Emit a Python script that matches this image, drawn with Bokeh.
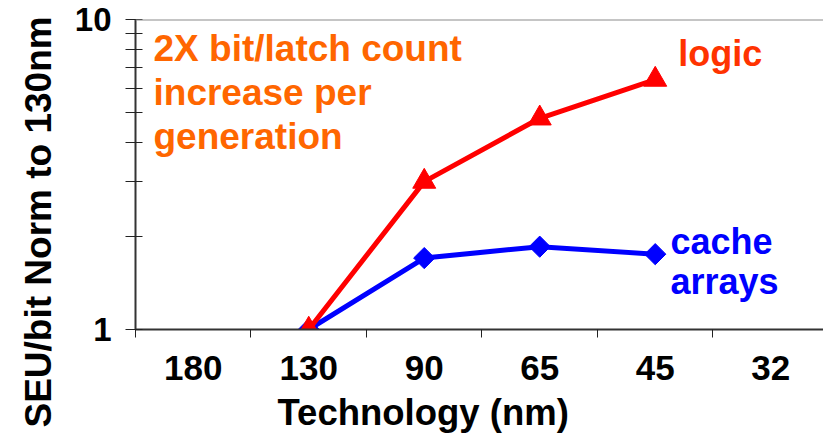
import math
from bokeh.plotting import figure
from bokeh.models import Range1d, FixedTicker, Span, Label, Title
from bokeh.embed import file_html
from bokeh.resources import INLINE

# ---- data ----
technologies = ["180", "130", "90", "65", "45", "32"]
measured_nodes = ["130", "90", "65", "45"]
logic_seu = [1.0, 3.0, 4.8, 6.4]
cache_seu = [1.0, 1.7, 1.85, 1.75]
y_major = [1, 10]
y_minor = [2, 3, 4, 5, 6, 7, 8, 9]

FONT = "Liberation Sans"

centers = [i + 0.5 for i in range(len(technologies))]
bounds = list(range(len(technologies) + 1))
node_x = [technologies.index(t) + 0.5 for t in measured_nodes]

p = figure(width=823, height=439, y_axis_type="log",
           x_range=Range1d(0, 5.957), y_range=Range1d(1, 10),
           output_backend="svg", toolbar_location=None,
           min_border_left=135, min_border_right=0,
           min_border_top=19, min_border_bottom=107)
p.outline_line_color = None
p.grid.visible = False
p.background_fill_color = "white"

# x axis
xa = p.xaxis[0]
xa.ticker = FixedTicker(ticks=centers, minor_ticks=bounds)
xa.major_label_overrides = {c: t for c, t in zip(centers, technologies)}
xa.major_tick_out = 0
xa.major_tick_in = 0
xa.minor_tick_out = 8
xa.minor_tick_in = 0
xa.minor_tick_line_color = "#222222"
xa.minor_tick_line_width = 1
xa.axis_line_color = "#333333"
xa.axis_line_width = 2
xa.major_label_text_font = FONT
xa.major_label_text_font_style = "bold"
xa.major_label_text_font_size = "35px"
xa.major_label_text_color = "black"
xa.major_label_standoff = 18

# y axis
ya = p.yaxis[0]
ya.ticker = FixedTicker(ticks=y_major, minor_ticks=y_minor)
ya.major_label_overrides = {1: "1", 10: "10"}
ya.major_tick_out = 10
ya.major_tick_in = 7
ya.minor_tick_out = 10
ya.minor_tick_in = 7
ya.major_tick_line_color = "#222222"
ya.minor_tick_line_color = "#222222"
ya.axis_line_color = "#333333"
ya.axis_line_width = 2
ya.major_label_text_font = FONT
ya.major_label_text_font_style = "bold"
ya.major_label_text_font_size = "33px"
ya.major_label_text_color = "black"
ya.major_label_standoff = 14

# axis titles
p.add_layout(Title(text="Technology (nm)", align="left", offset=142, standoff=14,
                   text_font=FONT, text_font_style="bold", text_font_size="36.5px",
                   text_color="black"), "below")
p.add_layout(Title(text="SEU/bit Norm to 130nm", align="left", offset=-98, standoff=26,
                   text_font=FONT, text_font_style="bold", text_font_size="37px",
                   text_color="black"), "left")

# top border line
p.add_layout(Span(location=10, dimension="width", line_color="#8c8c8c", line_width=2))

# series
p.line(node_x, cache_seu, line_color="#0000FF", line_width=5)
p.scatter(node_x, cache_seu, marker="square", size=15, angle=math.pi / 4,
          fill_color="#0000FF", line_color="#0000FF")
p.line(node_x, logic_seu, line_color="#FF0000", line_width=5)
p.scatter(node_x, logic_seu, marker="triangle", size=23,
          fill_color="#FF0000", line_color="#FF0000")

# annotations
p.add_layout(Label(x=0.156, y=9.4, text="2X bit/latch count\nincrease per\ngeneration",
                   text_font=FONT, text_font_style="bold", text_font_size="37px",
                   text_color="#FF6600", text_baseline="top", text_align="left",
                   text_line_height=1.08))
p.add_layout(Label(x=4.70, y=7.79, text="logic",
                   text_font=FONT, text_font_style="bold", text_font_size="36px",
                   text_color="#FF3300", text_baseline="alphabetic", text_align="left"))
p.add_layout(Label(x=4.632, y=2.24, text="cache\narrays",
                   text_font=FONT, text_font_style="bold", text_font_size="36px",
                   text_color="#0000FF", text_baseline="top", text_align="left",
                   text_line_height=0.98))

open("out.html", "w").write(file_html(p, INLINE))
